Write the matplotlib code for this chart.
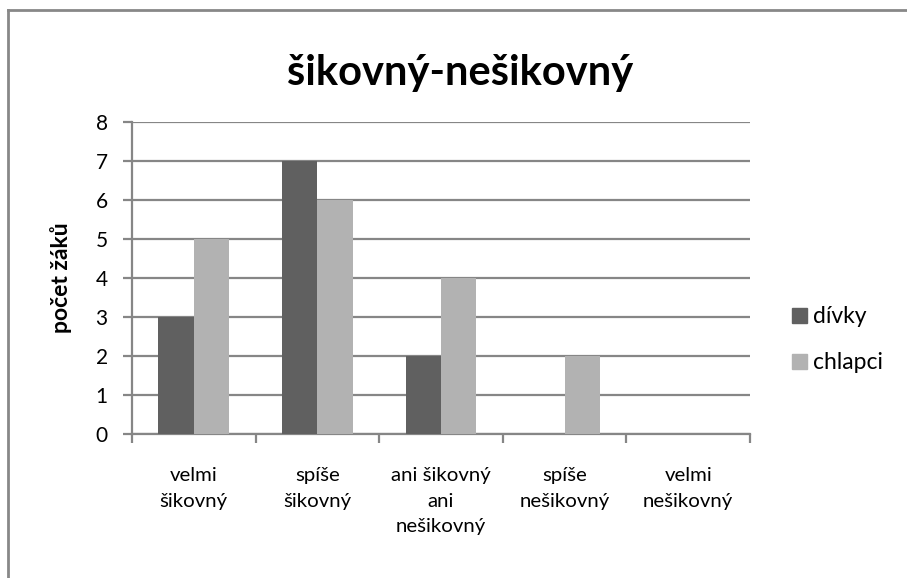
import numpy as np
import matplotlib.pyplot as plt
from matplotlib.patches import Patch
from matplotlib.lines import Line2D

plt.rcParams['font.family'] = ['Lato', 'DejaVu Sans']

# data
categories = ['velmi\nšikovný', 'spíše\nšikovný', 'ani šikovný\nani\nnešikovný',
              'spíše\nnešikovný', 'velmi\nnešikovný']
divky = [3, 7, 2, 0, 0]
chlapci = [5, 6, 4, 2, 0]

dark = '#606060'
light = '#b2b2b2'
grid_col = '#868686'

fig = plt.figure(figsize=(9.07, 5.78), dpi=100)
ax = fig.add_axes([0.1455, 0.249, 0.6814, 0.540])

x = np.arange(len(categories))
w = 0.2857
ax.bar(x - w / 2, divky, w, color=dark, zorder=3)
ax.bar(x + w / 2, chlapci, w, color=light, zorder=3)

ax.set_xlim(-0.5, len(categories) - 0.5)
ax.set_ylim(0, 8)
ax.set_yticks(range(0, 9))
ax.yaxis.grid(True, color=grid_col, linewidth=1.6, zorder=0)

# category ticks between groups
ax.set_xticks(np.arange(-0.5, len(categories), 1.0))
ax.set_xticklabels([])
ax.set_xticks(x, minor=True)
ax.set_xticklabels(categories, minor=True, fontsize=14.7, linespacing=1.6,
                   va='top')
ax.tick_params(axis='x', which='minor', length=0, pad=24)
ax.tick_params(axis='x', which='major', length=6.5, width=1.6, color=grid_col)
ax.tick_params(axis='y', length=6.5, width=1.6, color=grid_col, labelsize=15, pad=11)

for s in ['top', 'right']:
    ax.spines[s].set_visible(False)
for s in ['left', 'bottom']:
    ax.spines[s].set_color(grid_col)
    ax.spines[s].set_linewidth(1.6)

fig.text(0.0673, 0.519, 'počet žáků', rotation=90, ha='center', va='center',
         fontsize=16.5, fontweight='bold')

fig.text(0.507, 0.853, 'šikovný-nešikovný', ha='center', va='baseline',
         fontsize=30, fontweight='bold')

handles = [Patch(color=dark), Patch(color=light)]
fig.legend(handles, ['dívky', 'chlapci'], loc='center left',
           bbox_to_anchor=(0.873, 0.412), frameon=False, fontsize=16.5,
           handlelength=0.65, handleheight=0.65, handletextpad=0.28,
           labelspacing=1.1, borderpad=0, borderaxespad=0)

# outer chart border (top and left visible)
fig.add_artist(Line2D([0.009, 1.0], [0.983, 0.983], transform=fig.transFigure,
                      color='#888888', linewidth=2))
fig.add_artist(Line2D([0.009, 0.009], [0.0, 0.983], transform=fig.transFigure,
                      color='#888888', linewidth=2))

fig.savefig('out.png', dpi=100)
